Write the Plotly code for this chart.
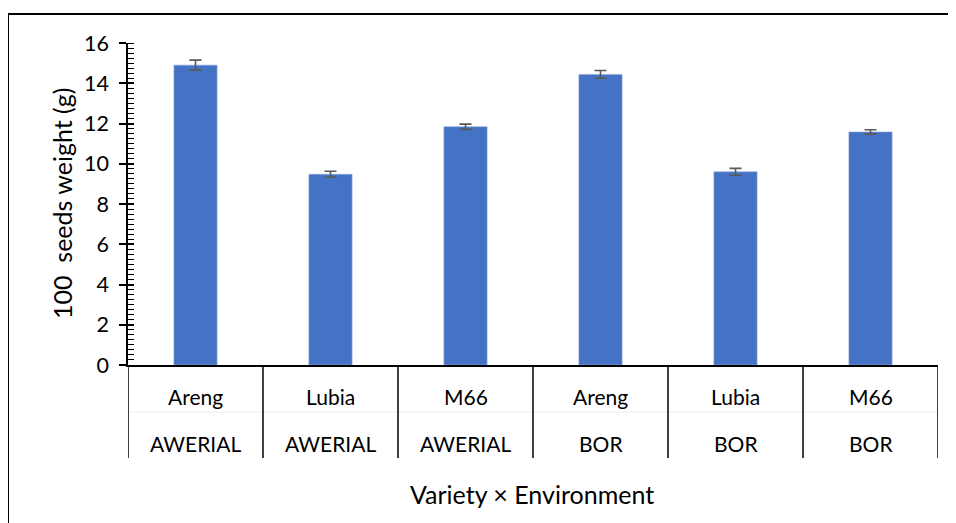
import plotly.graph_objects as go

varieties = ["Areng", "Lubia", "M66", "Areng", "Lubia", "M66"]
environments = ["AWERIAL", "AWERIAL", "AWERIAL", "BOR", "BOR", "BOR"]
seed_weight = [14.90, 9.48, 11.84, 14.44, 9.60, 11.58]
std_err = [0.25, 0.15, 0.13, 0.19, 0.17, 0.11]
y_ticks = [0, 2, 4, 6, 8, 10, 12, 14, 16]

FONT = "Lato"
W, H = 956, 523
OFF = 8  # page body margin: figure is drawn at (8, 8) in the window
# target plot area in window pixels
X0, X1, Y0, Y1 = 128, 938, 43, 365
L, T = X0 - OFF, Y0 - OFF
R = W - (X1 - OFF)
B = H - (Y1 - OFF)
pw = W - L - R
ph = H - T - B


def px_x(px):
    return (px - X0) / pw


def px_y(py):
    return (Y1 - py) / ph


idx = list(range(len(varieties)))

fig = go.Figure()
fig.add_trace(go.Bar(
    x=idx, y=seed_weight,
    marker=dict(color="#4472C4", line=dict(color="#8FAADC", width=0.6)),
    width=0.32,
    error_y=dict(type="data", array=std_err, visible=True,
                 color="#595959", thickness=1.6, width=6),
    showlegend=False, hoverinfo="skip",
))
fig.add_trace(go.Scatter(x=[idx[0]], y=[0], yaxis="y2", mode="markers",
                         marker=dict(opacity=0), showlegend=False, hoverinfo="skip"))

fig.update_layout(
    width=W, height=H,
    margin=dict(l=L, r=R, t=T, b=B, pad=0, autoexpand=False),
    paper_bgcolor="white", plot_bgcolor="white",
    font=dict(family=FONT, color="#000000"),
    xaxis=dict(
        range=[-0.5, len(idx) - 0.5], showticklabels=False, ticks="",
        showline=True, linecolor="black", linewidth=1.5,
        showgrid=False, zeroline=False, automargin=False,
    ),
    yaxis=dict(
        range=[0, 16], tickmode="array", tickvals=y_ticks,
        tickfont=dict(size=21.5, family=FONT),
        ticks="outside", ticklen=7, tickwidth=1.5, tickcolor="black",
        ticklabelstandoff=6,
        showline=True, linecolor="black", linewidth=1.5,
        showgrid=False, zeroline=False, automargin=False,
        minor=dict(dtick=0.25, ticks="inside", ticklen=6, tickwidth=1, tickcolor="black", showgrid=False),
    ),
    yaxis2=dict(
        range=[0, 16], overlaying="y", side="left", tickmode="array", tickvals=y_ticks,
        showticklabels=False, ticks="inside", ticklen=6, tickwidth=1.5, tickcolor="black",
        showgrid=False, zeroline=False, showline=False, automargin=False,
    ),
)

# faint row divider in the category table
fig.add_shape(type="line", xref="paper", yref="paper",
              x0=0, x1=1, y0=px_y(412), y1=px_y(412),
              line=dict(color="#ececec", width=1))

# category separators at boundaries between bars
for k in range(len(idx) + 1):
    fig.add_shape(type="line", xref="x", yref="paper",
                  x0=k - 0.5, x1=k - 0.5, y0=0, y1=px_y(458),
                  line=dict(color="black", width=1.5))

# category labels (two rows)
for i, (v, e) in enumerate(zip(varieties, environments)):
    fig.add_annotation(x=i, y=px_y(396), xref="x", yref="paper", text=v,
                       showarrow=False, font=dict(size=21, family=FONT), yanchor="middle")
    fig.add_annotation(x=i, y=px_y(443), xref="x", yref="paper", text=e,
                       showarrow=False, font=dict(size=21, family=FONT), yanchor="middle")

# axis titles
fig.add_annotation(x=px_x(532), y=px_y(494), xref="paper", yref="paper",
                   text="Variety × Environment", showarrow=False,
                   font=dict(size=25, family=FONT), yanchor="middle")
fig.add_annotation(x=px_x(62), y=px_y(204), xref="paper", yref="paper",
                   text="100  seeds weight (g)", showarrow=False, textangle=-90,
                   font=dict(size=25, family=FONT), xanchor="center", yanchor="middle")

# outer chart border (only top and left edges visible in the frame)
fig.add_shape(type="line", xref="paper", yref="paper",
              x0=px_x(7), x1=px_x(W + 40), y0=px_y(14), y1=px_y(14),
              line=dict(color="black", width=2))
fig.add_shape(type="line", xref="paper", yref="paper",
              x0=px_x(8), x1=px_x(8), y0=px_y(13), y1=px_y(H + 40),
              line=dict(color="black", width=2))

fig.write_html("out.html")
